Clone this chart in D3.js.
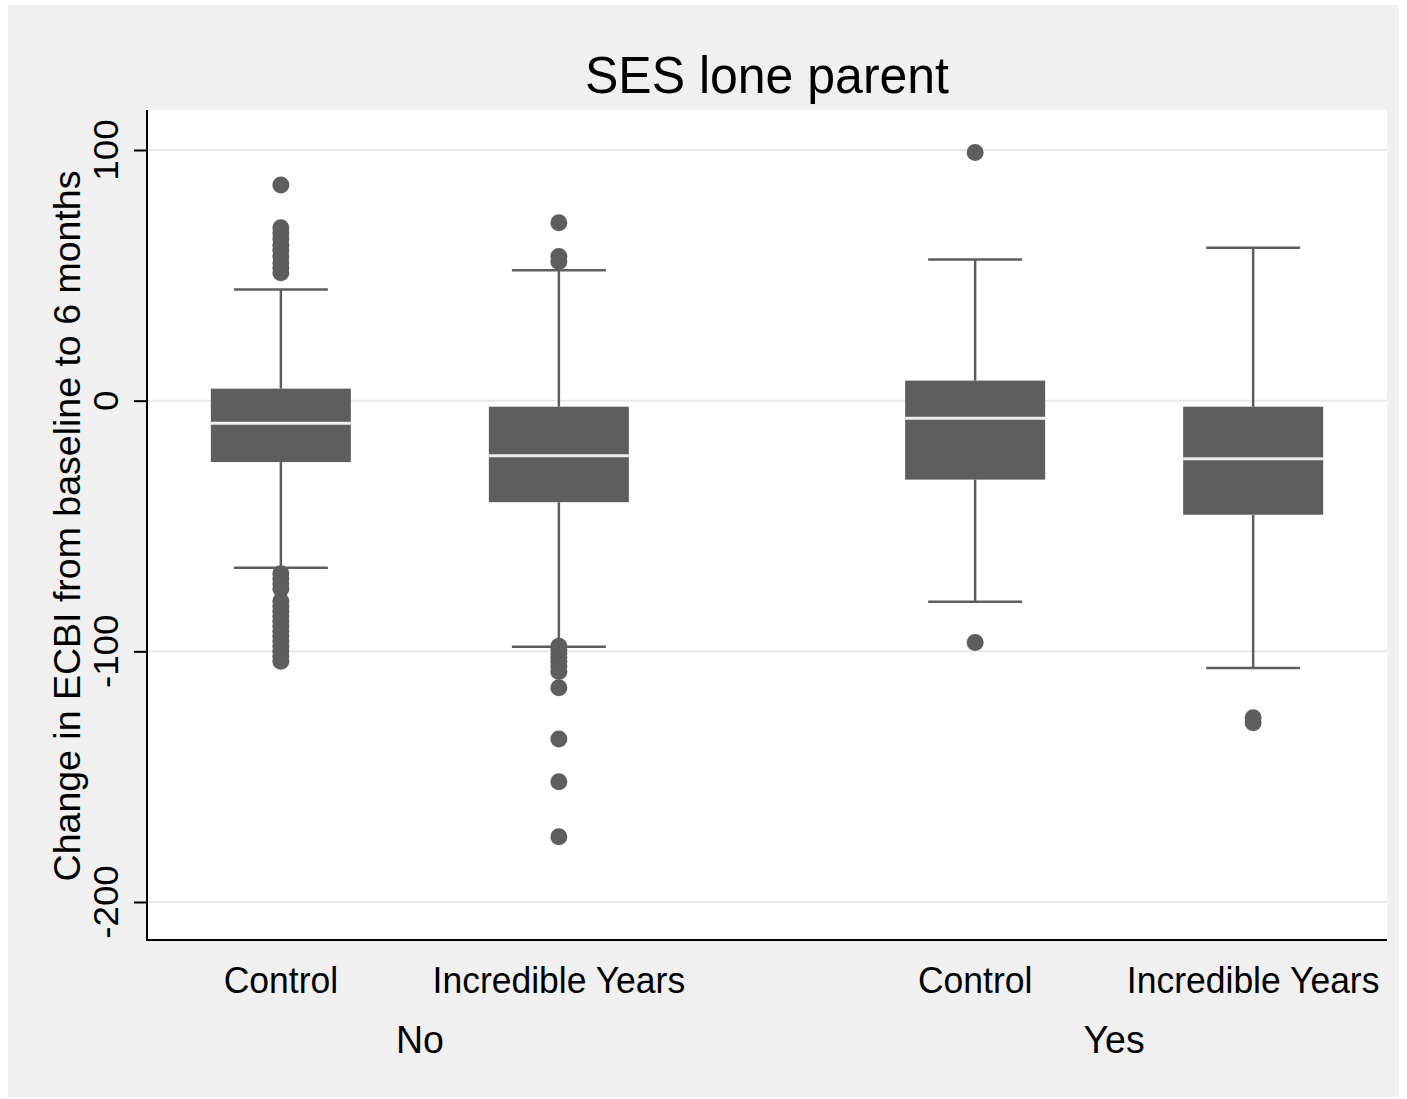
<!DOCTYPE html>
<html>
<head>
<meta charset="utf-8">
<script src="https://cdn.jsdelivr.net/npm/d3@7"></script>
<style>
  body { margin: 0; background: #fff; }
  text { font-family: "Liberation Sans", Arial, sans-serif; fill: #000; }
</style>
</head>
<body>
<svg width="1407" height="1099"></svg>
<script>
const svg = d3.select('svg');

// data
const groups = ['No', 'Yes'];
const treatments = ['Control', 'Incredible Years'];
const boxes = [
  {group: 'No',  treat: 'Control'},
  {group: 'No',  treat: 'Incredible Years'},
  {group: 'Yes', treat: 'Control'},
  {group: 'Yes', treat: 'Incredible Years'}
];
const q1Values      = [-24.5, -40.5, -31.5, -45.5];
const medianValues  = [-9, -22, -7, -23.2];
const q3Values      = [4.8, -2.4, 8, -2.4];
const lowerWhiskers = [-66.7, -98.2, -80.2, -106.6];
const upperWhiskers = [44.3, 52, 56.3, 61];
const outliers = [
  [86, 69, 67, 64.5, 62, 60, 57.5, 55, 53, 51,
   -69, -71, -73, -75, -80, -82, -84, -86, -88, -90, -92, -94, -96, -98, -100, -102, -104],
  [71, 57.5, 55.5,
   -98, -99.5, -101, -102.5, -104, -106, -108, -114.5, -135, -152, -174],
  [99, -96.5],
  [-126.5, -128.5]
];
const yTicks = [-200, -100, 0, 100];

const title = 'SES lone parent';
const yAxisLabel = 'Change in ECBI from baseline to 6 months';

const plot = {left: 147, right: 1387, top: 110, bottom: 940};
const boxWidth = 140;
const capWidth = 94;
const boxColor = '#5e5e5e';

// background
svg.append('rect')
  .attr('x', 8).attr('y', 5)
  .attr('width', 1391).attr('height', 1092)
  .attr('fill', '#f0f0f0');

svg.append('rect')
  .attr('x', plot.left).attr('y', plot.top)
  .attr('width', plot.right - plot.left)
  .attr('height', plot.bottom - plot.top)
  .attr('fill', '#fff');

const yScale = d3.scaleLinear()
  .domain([-200, 100])
  .range([902, 150]);

const groupScale = d3.scalePoint()
  .domain(groups)
  .range([plot.left, plot.right])
  .padding(0.393);

const treatScale = d3.scalePoint()
  .domain(treatments)
  .range([-139, 139]);

const xPos = d => groupScale(d.group) + treatScale(d.treat);

// grid
svg.append('g')
  .selectAll('line')
  .data(yTicks)
  .join('line')
  .attr('x1', plot.left).attr('x2', plot.right)
  .attr('y1', d => yScale(d)).attr('y2', d => yScale(d))
  .attr('stroke', '#e8e8e8')
  .attr('stroke-width', 2);

// boxes
const g = svg.append('g');
boxes.forEach((b, i) => {
  const x = xPos(b);
  const line = (x1, y1, x2, y2, w = 2.5, c = boxColor) => g.append('line')
    .attr('x1', x1).attr('y1', y1).attr('x2', x2).attr('y2', y2)
    .attr('stroke', c).attr('stroke-width', w);

  line(x, yScale(upperWhiskers[i]), x, yScale(q3Values[i]));
  line(x, yScale(q1Values[i]), x, yScale(lowerWhiskers[i]));
  line(x - capWidth / 2, yScale(upperWhiskers[i]), x + capWidth / 2, yScale(upperWhiskers[i]));
  line(x - capWidth / 2, yScale(lowerWhiskers[i]), x + capWidth / 2, yScale(lowerWhiskers[i]));

  g.append('rect')
    .attr('x', x - boxWidth / 2)
    .attr('y', yScale(q3Values[i]))
    .attr('width', boxWidth)
    .attr('height', yScale(q1Values[i]) - yScale(q3Values[i]))
    .attr('fill', boxColor);

  line(x - boxWidth / 2, yScale(medianValues[i]), x + boxWidth / 2, yScale(medianValues[i]), 3, '#eeeeee');

  g.selectAll(null)
    .data(outliers[i])
    .join('circle')
    .attr('cx', x)
    .attr('cy', d => yScale(d))
    .attr('r', 8.5)
    .attr('fill', boxColor);
});

// axes
const yAxis = d3.axisLeft(yScale)
  .tickValues(yTicks)
  .tickSize(13)
  .tickFormat('');

const yAxisG = svg.append('g')
  .attr('transform', `translate(${plot.left},0)`)
  .call(yAxis);
yAxisG.select('.domain').remove();
yAxisG.selectAll('.tick line').attr('stroke', '#000').attr('stroke-width', 2);

svg.append('line')
  .attr('x1', plot.left).attr('x2', plot.left)
  .attr('y1', plot.top).attr('y2', plot.bottom + 1)
  .attr('stroke', '#000').attr('stroke-width', 2);
svg.append('line')
  .attr('x1', plot.left - 1).attr('x2', plot.right)
  .attr('y1', plot.bottom).attr('y2', plot.bottom)
  .attr('stroke', '#000').attr('stroke-width', 2);

svg.append('g')
  .selectAll('text')
  .data(yTicks)
  .join('text')
  .attr('transform', d => `translate(118,${yScale(d)}) rotate(-90) scale(1.05,1)`)
  .attr('text-anchor', 'middle')
  .attr('font-size', 35)
  .text(d => d);

svg.append('text')
  .attr('transform', `translate(80,526) rotate(-90)`)
  .attr('text-anchor', 'middle')
  .attr('font-size', 37.5)
  .text(yAxisLabel);

// x labels
svg.append('g')
  .selectAll('text')
  .data(boxes)
  .join('text')
  .attr('transform', d => `translate(${xPos(d)},993) scale(1,1.06)`)
  .attr('text-anchor', 'middle')
  .attr('font-size', 35.5)
  .text(d => d.treat);

svg.append('g')
  .selectAll('text')
  .data(groups)
  .join('text')
  .attr('transform', d => `translate(${groupScale(d)},1053) scale(1,1.04)`)
  .attr('text-anchor', 'middle')
  .attr('font-size', 37.5)
  .text(d => d);

svg.append('text')
  .attr('transform', 'translate(767,93) scale(1,1.05)')
  .attr('text-anchor', 'middle')
  .attr('font-size', 50)
  .text(title);
</script>
</body>
</html>
